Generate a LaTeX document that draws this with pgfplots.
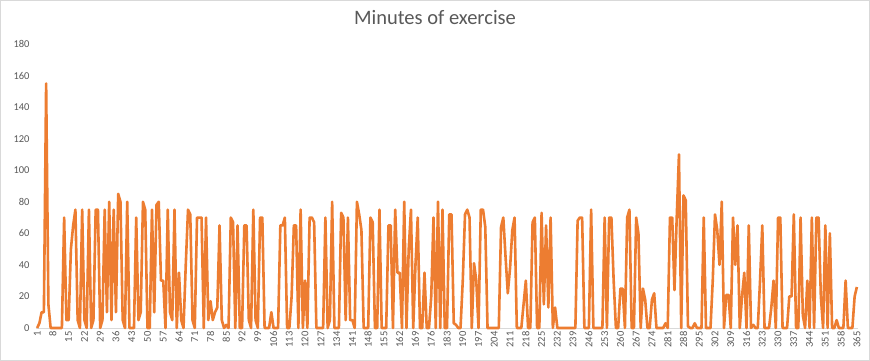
\documentclass[border=0pt]{standalone}
\usepackage{fontspec}
\setmainfont{Carlito}
\usepackage{pgfplots}
\pgfplotsset{compat=1.18}
\usepackage{pgfplotstable}
\definecolor{exorange}{HTML}{ED7D31}
\definecolor{lbl}{HTML}{595959}
\definecolor{axln}{HTML}{D9D9D9}
\pgfplotstableread[row sep=\\]{
y\\
0\\3\\10\\10\\155\\15\\0\\0\\0\\0\\
0\\0\\70\\5\\5\\50\\65\\75\\5\\0\\
75\\5\\0\\75\\0\\5\\75\\75\\0\\5\\
75\\10\\80\\5\\75\\10\\85\\80\\5\\0\\
80\\0\\0\\0\\70\\5\\10\\80\\75\\0\\
0\\75\\10\\78\\80\\30\\30\\0\\75\\10\\
5\\75\\0\\35\\5\\0\\40\\75\\72\\5\\
0\\70\\70\\70\\0\\70\\5\\17\\5\\10\\
13\\65\\5\\0\\2\\0\\70\\67\\0\\65\\
0\\0\\65\\65\\5\\0\\75\\5\\0\\70\\
70\\0\\0\\0\\10\\0\\0\\0\\65\\65\\
70\\0\\0\\20\\65\\65\\0\\75\\0\\30\\
0\\70\\70\\67\\0\\0\\0\\0\\70\\0\\
5\\80\\0\\0\\0\\73\\70\\5\\70\\5\\
5\\0\\80\\72\\62\\0\\0\\0\\70\\67\\
0\\0\\75\\0\\0\\0\\65\\65\\0\\75\\
35\\35\\0\\80\\0\\50\\75\\0\\40\\70\\
0\\0\\35\\0\\0\\20\\70\\0\\80\\0\\
75\\0\\0\\72\\72\\3\\2\\0\\0\\30\\
72\\75\\70\\0\\41\\30\\0\\75\\75\\64\\
0\\0\\0\\0\\0\\0\\64\\70\\45\\22\\
38\\62\\70\\0\\0\\0\\15\\30\\0\\0\\
67\\70\\0\\0\\73\\15\\65\\13\\70\\0\\
13\\0\\0\\0\\0\\0\\0\\0\\0\\0\\
68\\70\\70\\0\\0\\0\\75\\0\\0\\0\\
0\\0\\70\\0\\70\\70\\30\\0\\0\\25\\
25\\0\\70\\75\\0\\0\\70\\60\\0\\25\\
18\\0\\0\\18\\22\\0\\0\\0\\0\\3\\
0\\70\\70\\24\\70\\110\\0\\84\\81\\1\\
0\\0\\3\\0\\0\\0\\70\\0\\0\\0\\
30\\72\\62\\40\\80\\0\\21\\21\\0\\70\\
40\\65\\0\\20\\35\\0\\65\\0\\2\\0\\
0\\30\\65\\0\\0\\0\\13\\30\\0\\70\\
70\\0\\0\\0\\20\\20\\72\\0\\0\\70\\
8\\0\\30\\0\\70\\0\\70\\70\\20\\0\\
65\\0\\60\\0\\0\\5\\0\\0\\0\\30\\
0\\0\\0\\20\\26\\
}\exdata
\begin{document}
\begin{tikzpicture}
\fill[white] (0,0) rectangle (870pt,361pt);
\begin{axis}[
  at={(36pt,33pt)}, anchor=south west,
  scale only axis, width=822pt, height=284pt,
  xmin=0.5, xmax=365.5, ymin=0, ymax=180,
  ytick={0,20,...,180},
  xtick={1,8,...,365},
  axis lines*=left,
  y axis line style={draw=none},
  x axis line style={draw=axln, line width=0.8pt},
  major tick length=0pt,
  /pgf/number format/assume math mode=true,
  tick label style={text=lbl},
  yticklabel style={font=\fontsize{10.5}{10.5}\selectfont, xshift=-3pt},
  xticklabel style={font=\fontsize{10.5}{10.5}\selectfont, rotate=90, anchor=east},
  clip=false,
]
\addplot[exorange, line width=2.6pt, line join=round, no markers] table[x expr=\coordindex+1, y=y] {\exdata};
\end{axis}
\node[text=lbl, font=\fontsize{20.5}{20.5}\selectfont] at (435pt,343pt) {Minutes of exercise};
\draw[axln, line width=0.8pt] (0.4pt,0.4pt) rectangle (869.6pt,360.6pt);
\end{tikzpicture}
\end{document}
